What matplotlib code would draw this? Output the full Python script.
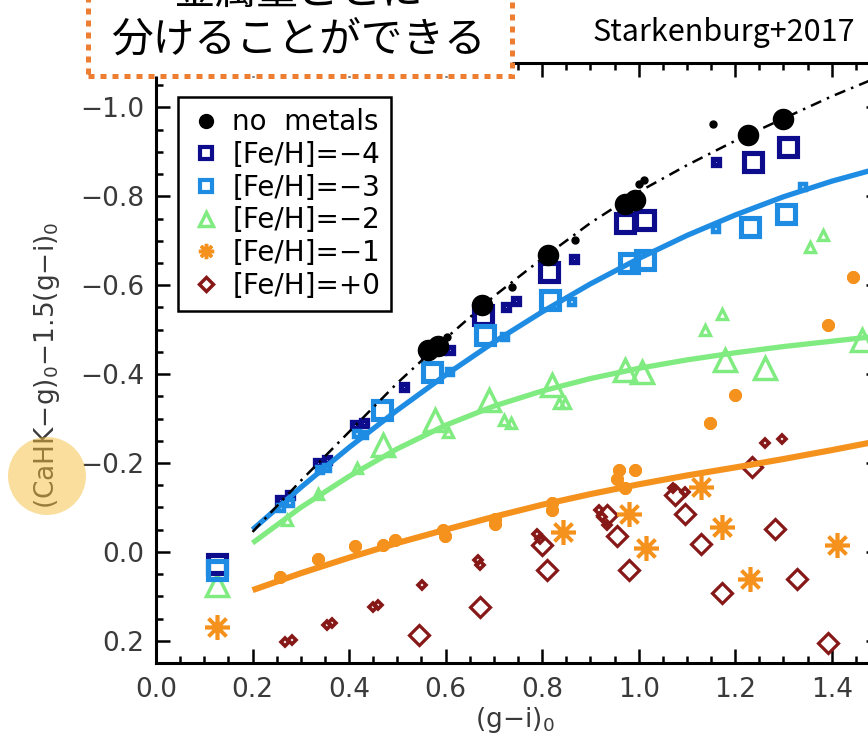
import matplotlib.pyplot as plt
from matplotlib.lines import Line2D
from matplotlib.patches import Rectangle, Ellipse
from matplotlib.ticker import MultipleLocator

plt.rcParams['font.family'] = 'DejaVu Sans'
plt.rcParams['mathtext.fontset'] = 'dejavusans'
plt.rcParams['axes.unicode_minus'] = True

# colour-colour data: (g-i)_0 vs (CaHK-g)_0 - 1.5(g-i)_0
nm_big_x = [0.564, 0.584, 0.676, 0.813, 0.972, 0.992, 1.227, 1.300]
nm_big_y = [-0.454, -0.463, -0.555, -0.667, -0.782, -0.792, -0.937, -0.973]
nm_small_x = [0.602, 0.737, 0.868, 1.000, 1.012, 1.154]
nm_small_y = [-0.484, -0.596, -0.701, -0.827, -0.837, -0.962]

m4_big_x = [0.126, 0.678, 0.815, 0.972, 1.013, 1.237, 1.310]
m4_big_y = [0.027, -0.533, -0.630, -0.739, -0.746, -0.877, -0.910]
m4_small_x = [0.257, 0.278, 0.336, 0.354, 0.412, 0.430, 0.513, 0.560, 0.590,
              0.609, 0.725, 0.745, 0.865, 1.161]
m4_small_y = [-0.116, -0.128, -0.199, -0.206, -0.285, -0.289, -0.371, -0.445,
              -0.455, -0.454, -0.552, -0.565, -0.660, -0.877]

m3_big_x = [0.126, 0.468, 0.571, 0.682, 0.817, 0.979, 1.013, 1.230, 1.306]
m3_big_y = [0.041, -0.319, -0.405, -0.488, -0.566, -0.649, -0.656, -0.731, -0.761]
m3_small_x = [0.260, 0.278, 0.340, 0.354, 0.416, 0.430, 0.609, 0.723, 0.862,
              0.992, 1.161, 1.341]
m3_small_y = [-0.098, -0.109, -0.184, -0.188, -0.266, -0.262, -0.405, -0.484,
              -0.562, -0.641, -0.727, -0.821]

m2_big_x = [0.126, 0.471, 0.578, 0.689, 0.820, 0.972, 1.006, 1.179, 1.262, 1.462]
m2_big_y = [0.075, -0.240, -0.296, -0.341, -0.375, -0.409, -0.405, -0.431, -0.413, -0.476]
m2_small_x = [0.271, 0.336, 0.416, 0.606, 0.720, 0.735, 0.834, 0.848, 1.137,
              1.172, 1.355, 1.382]
m2_small_y = [-0.071, -0.131, -0.188, -0.270, -0.296, -0.290, -0.334, -0.334,
              -0.499, -0.536, -0.686, -0.712]

m1_big_x = [0.126, 0.844, 0.979, 1.016, 1.130, 1.172, 1.230, 1.410]
m1_big_y = [0.169, -0.045, -0.086, -0.008, -0.146, -0.056, 0.060, -0.015]
m1_small_x = [0.257, 0.336, 0.412, 0.470, 0.495, 0.595, 0.598, 0.703, 0.703,
              0.820, 0.820, 0.955, 0.960, 0.972, 0.992, 1.148, 1.199, 1.393, 1.445]
m1_small_y = [0.056, 0.015, -0.013, -0.015, -0.026, -0.049, -0.035, -0.075, -0.062,
              -0.109, -0.095, -0.165, -0.185, -0.143, -0.184, -0.290, -0.353,
              -0.510, -0.619]

p0_big_x = [0.544, 0.671, 0.799, 0.810, 0.934, 0.955, 0.979, 1.075, 1.097,
            1.129, 1.172, 1.234, 1.282, 1.329, 1.393]
p0_big_y = [0.187, 0.124, -0.015, 0.040, -0.083, -0.035, 0.041, -0.128, -0.086,
            -0.017, 0.092, -0.190, -0.051, 0.062, 0.206]
p0_small_x = [0.267, 0.281, 0.354, 0.365, 0.450, 0.460, 0.551, 0.668, 0.672,
              0.789, 0.795, 0.917, 0.925, 0.934, 1.071, 1.096, 1.262, 1.296]
p0_small_y = [0.202, 0.198, 0.165, 0.161, 0.124, 0.119, 0.075, 0.019, 0.030,
              -0.041, -0.028, -0.094, -0.078, -0.060, -0.143, -0.135, -0.244, -0.255]

# fitted relations
fit_x = [0.2, 0.3, 0.4, 0.5, 0.6, 0.7, 0.8, 0.9, 1.0, 1.1, 1.2, 1.3, 1.4, 1.5]
fit_nm = [-0.045, -0.160, -0.270, -0.380, -0.480, -0.575, -0.660, -0.740,
          -0.810, -0.870, -0.925, -0.975, -1.025, -1.070]
fit_m3 = [-0.050, -0.145, -0.235, -0.319, -0.398, -0.472, -0.540, -0.603,
          -0.660, -0.712, -0.758, -0.799, -0.834, -0.864]
fit_m2 = [-0.020, -0.100, -0.170, -0.232, -0.285, -0.328, -0.362, -0.390,
          -0.413, -0.432, -0.448, -0.462, -0.474, -0.486]
fit_m1 = [0.086, 0.048, 0.013, -0.020, -0.050, -0.079, -0.106, -0.130,
          -0.152, -0.172, -0.190, -0.209, -0.229, -0.250]

labels = ['no  metals', '[Fe/H]=−4', '[Fe/H]=−3', '[Fe/H]=−2', '[Fe/H]=−1', '[Fe/H]=+0']

navy = '#0c0c8c'
sky = '#1f8ce4'
green = '#80eb80'
orange = '#f5921e'
darkred = '#861818'
asterisk = (8, 2, 0)

W, H = 868, 749
fig = plt.figure(figsize=(W / 100, H / 100), dpi=100)


def fpos(x, y):
    return x / W, 1 - y / H


ax = fig.add_axes([156 / W, 1 - 663 / H, 724 / W, 600 / H])


def pts(x, y, marker, color, ms, mew, filled=False):
    ax.plot(x, y, ls='none', marker=marker, ms=ms, mew=mew, mec=color,
            mfc=color if filled else 'none', zorder=3)


pts(p0_small_x, p0_small_y, 'D', darkred, 4.5, 2.6)
pts(p0_big_x, p0_big_y, 'D', darkred, 10, 2.3)
pts(m1_small_x, m1_small_y, asterisk, orange, 9, 3)
pts(m1_big_x, m1_big_y, asterisk, orange, 18, 2.6)
pts(m2_small_x, m2_small_y, '^', green, 7, 2.4)
pts(m2_big_x, m2_big_y, '^', green, 16, 2.5)
pts(m4_small_x, m4_small_y, 's', navy, 4.2, 3.8)
pts(m4_big_x, m4_big_y, 's', navy, 13.5, 3.7)
pts(m3_small_x, m3_small_y, 's', sky, 5, 3.2)
pts(m3_big_x, m3_big_y, 's', sky, 13.5, 3.7)
pts(nm_small_x, nm_small_y, 'o', 'black', 5, 1, filled=True)
pts(nm_big_x, nm_big_y, 'o', 'black', 14.5, 1, filled=True)

ax.plot(fit_x, fit_m1, color=orange, lw=4.4, zorder=4, solid_capstyle='butt')
ax.plot(fit_x, fit_m2, color=green, lw=3.8, zorder=4, solid_capstyle='butt')
ax.plot(fit_x, fit_m3, color=sky, lw=3.8, zorder=4, solid_capstyle='butt')
ax.plot(fit_x, fit_nm, color='black', lw=1.8, ls=(0, (4.5, 2.5, 1, 2.5)), zorder=4)

ax.set_xlim(0, 1.5)
ax.set_ylim(0.25, -1.1)
ax.xaxis.set_major_locator(MultipleLocator(0.2))
ax.xaxis.set_minor_locator(MultipleLocator(0.05))
ax.yaxis.set_major_locator(MultipleLocator(0.2))
ax.yaxis.set_minor_locator(MultipleLocator(0.05))
ax.tick_params(which='both', direction='in', top=True, right=True, width=1.8,
               labelsize=19, labelcolor='#3a3a3a')
ax.tick_params(which='major', length=10)
ax.tick_params(which='minor', length=5)
ax.tick_params(axis='x', pad=10)
ax.tick_params(axis='y', pad=8.5)
for s in ax.spines.values():
    s.set_linewidth(2.2)

handles = [
    Line2D([], [], ls='none', marker='o', ms=10, mfc='black', mec='black'),
    Line2D([], [], ls='none', marker='s', ms=8.5, mfc='none', mec=navy, mew=3),
    Line2D([], [], ls='none', marker='s', ms=8.5, mfc='none', mec=sky, mew=3),
    Line2D([], [], ls='none', marker='^', ms=10, mfc='none', mec=green, mew=2.5),
    Line2D([], [], ls='none', marker=asterisk, ms=11, mfc='none', mec=orange, mew=2.5),
    Line2D([], [], ls='none', marker='D', ms=7, mfc='none', mec=darkred, mew=2.5),
]
leg = ax.legend(handles, labels, loc='upper left', bbox_to_anchor=(0.0304, 0.943),
                borderaxespad=0, fontsize=20, fancybox=False, edgecolor='black',
                framealpha=1, borderpad=0.4, labelspacing=0.17, handlelength=1.2,
                handletextpad=0.35, numpoints=1)
leg.get_frame().set_linewidth(1.8)

fig.text(*fpos(515, 720), '(g−i)$_0$', ha='center', va='center', fontsize=19,
         color='#3a3a3a')
fig.text(*fpos(47, 365), '(CaHK−g)$_0$−1.5(g−i)$_0$', rotation=90, ha='center',
         va='center', fontsize=19, color='#3a3a3a')
fig.add_artist(Ellipse(fpos(47, 476), 78 / W, 78 / H, transform=fig.transFigure,
                       facecolor='#f5be3c', alpha=0.5, edgecolor='none', zorder=12))

# callout box in the top-left corner
jp = ['Noto Sans CJK JP', 'DejaVu Sans']
fig.add_artist(Rectangle(fpos(88, 76), (512 - 88) / W, 96 / H, transform=fig.transFigure,
                         facecolor='white', edgecolor='#ed7d31', lw=3.6,
                         ls=(0, (1.2, 1.2)), zorder=10))
fig.text(*fpos(298, 40), '分けることができる', family=jp, fontsize=30,
         ha='center', va='center', zorder=11)
fig.text(*fpos(298, -8), '金属量ごとに', family=jp, fontsize=30,
         ha='center', va='center', zorder=11)
fig.text(*fpos(724, 33), 'Starkenburg+2017', family=jp, fontsize=22,
         ha='center', va='center')

fig.savefig('out.png', dpi=100)
